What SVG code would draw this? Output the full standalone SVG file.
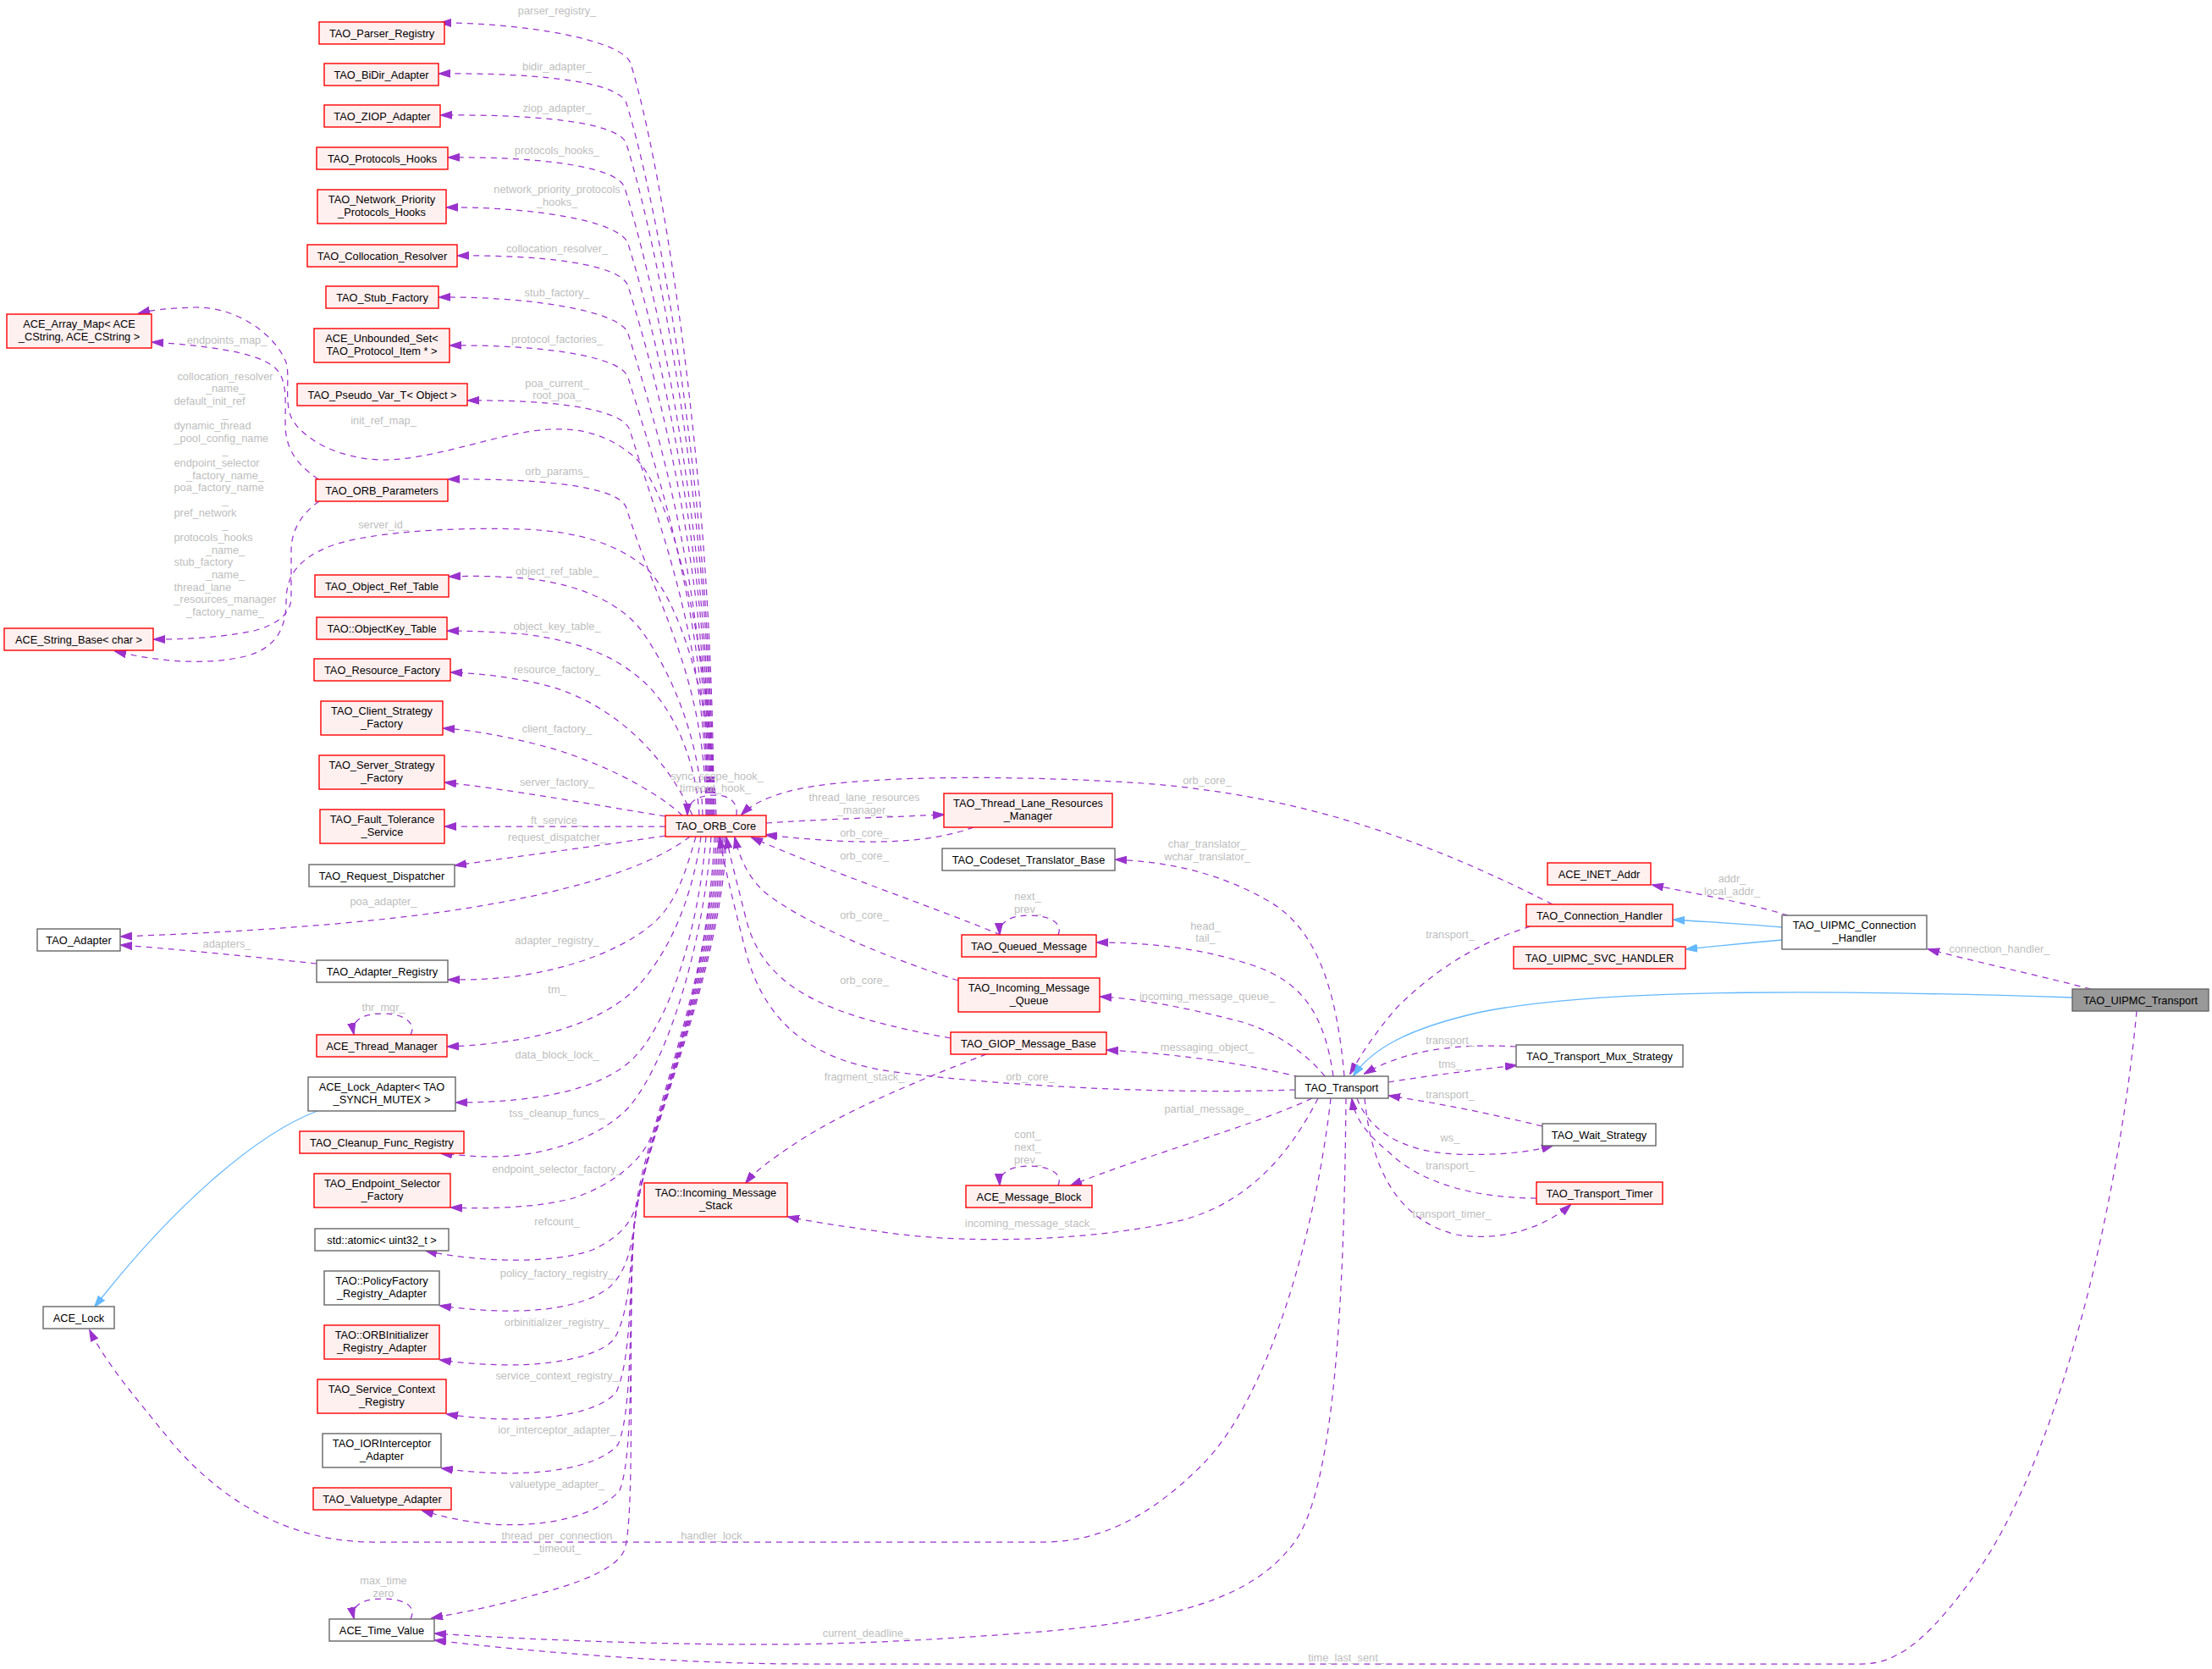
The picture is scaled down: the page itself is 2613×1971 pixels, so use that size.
<svg xmlns="http://www.w3.org/2000/svg" width="2613" height="1971" viewBox="0 0 2613 1971">
<style>
.e{fill:none;stroke:#9a32cd;stroke-width:1.25;stroke-dasharray:7,6;marker-end:url(#ap)}
.i{fill:none;stroke:#63b8ff;stroke-width:1.3;marker-end:url(#ab)}
.nr rect{fill:#fff0f0;stroke:#ff0000;stroke-width:1.4}
.ng rect{fill:#ffffff;stroke:#666666;stroke-width:1.4}
.nc rect{fill:#999999;stroke:#666666;stroke-width:1.4}
text{font-family:"Liberation Sans",Arial,Helvetica,sans-serif;font-size:12.8px}
.t{fill:#000000;text-anchor:middle}
.l{fill:#bebebe;text-anchor:middle}
.ls{fill:#bebebe;text-anchor:start}
</style>
<defs>
<marker id="ap" markerUnits="userSpaceOnUse" markerWidth="14" markerHeight="10" viewBox="0 0 14 10" refX="13" refY="5" orient="auto"><path d="M0,0.5 L14,5 L0,9.5 z" fill="#9a32cd" stroke="#9a32cd"/></marker>
<marker id="ab" markerUnits="userSpaceOnUse" markerWidth="14" markerHeight="10" viewBox="0 0 14 10" refX="13" refY="5" orient="auto"><path d="M0,0.5 L14,5 L0,9.5 z" fill="#63b8ff" stroke="#63b8ff"/></marker>
</defs>
<rect width="2613" height="1971" fill="#ffffff"/>
<g id="edges">
<path class="e" d="M 843,963 C 843,563 782,195 745,75 C 736,47 619,27 520,27"/>
<path class="e" d="M 842,963 C 842,585 777,242 740,122 C 731,94 618,86 519,87"/>
<path class="e" d="M 841,963 C 841,606 777,290 740,170 C 731,142 619,135 521,136"/>
<path class="e" d="M 840,963 C 840,630 775,342 738,222 C 729,194 623,185 530,186"/>
<path class="e" d="M 839,963 C 839,659 779,408 742,288 C 733,260 624,244 528,245"/>
<path class="e" d="M 838,963 C 838,682 779,458 742,338 C 733,310 631,301 541,302"/>
<path class="e" d="M 837,963 C 837,707 779,514 742,394 C 733,366 619,350 519,351"/>
<path class="e" d="M 836,963 C 836,730 779,566 742,446 C 733,418 626,407 532,408"/>
<path class="e" d="M 835,963 C 835,758 781,628 744,508 C 735,480 638,472 553,473"/>
<path class="e" d="M 834,963 C 834,800 777,720 740,600 C 731,572 624,565 530,566"/>
<path class="e" d="M 830,963 C 828,870 790,790 758,745 C 735,715 690,690 620,683 C 580,680 555,680 531,681"/>
<path class="e" d="M 826,963 C 822,890 790,830 758,803 C 730,778 690,758 620,749 C 580,746 555,745 529,745"/>
<path class="e" d="M 818,963 C 790,900 730,830 640,808 C 600,799 565,795 533,794"/>
<path class="e" d="M 806,963 C 770,930 700,895 630,878 C 590,868 555,862 524,860"/>
<path class="e" d="M 786,964 C 700,950 600,932 526,924"/>
<path class="e" d="M 786,976 L 526,976"/>
<path class="e" d="M 786,987 C 700,1000 620,1010 538,1022"/>
<path class="e" d="M 815,988 C 760,1030 650,1060 500,1080 C 380,1095 250,1102 143,1106"/>
<path class="e" d="M 844,963 C 842,800 800,590 750,540 C 720,515 690,505 649,507 C 590,510 510,545 448,543 C 400,541 360,520 345,495 C 335,475 343,445 338,428 C 325,395 280,362 230,363 C 200,364 180,366 164,370"/>
<path class="e" d="M 846,963 C 842,830 800,700 760,668 C 730,645 690,628 620,625 C 520,622 430,630 390,645 C 352,660 338,680 338,710 C 338,740 328,765 290,775 C 240,787 180,780 136,769"/>
<path class="e" d="M 376,566 C 350,548 337,530 337,500 C 337,470 340,445 322,432 C 300,415 240,408 180,404"/>
<path class="e" d="M 377,592 C 358,605 344,625 344,650 L 344,705 C 344,722 332,736 300,745 C 260,753 220,755 182,755"/>
<path class="e" d="M 374,1138 C 300,1130 220,1122 143,1116"/>
<path class="e" d="M 822,988 C 810,1030 800,1060 780,1082 C 750,1115 680,1145 600,1154 C 570,1157 550,1157 530,1157"/>
<path class="e" d="M 828,988 C 818,1060 790,1130 746,1172 C 710,1205 640,1232 529,1236"/>
<path class="e" d="M 485,1222 C 492,1210 480,1197 452,1197 C 425,1197 415,1207 418,1221"/>
<path class="e" d="M 834,988 C 825,1100 790,1210 746,1252 C 710,1285 640,1302 539,1302"/>
<path class="e" d="M 840,988 C 832,1110 790,1250 745,1305 C 715,1340 650,1366 580,1366 C 560,1366 540,1364 521,1362"/>
<path class="e" d="M 844,988 C 838,1130 795,1280 769,1343 C 755,1375 720,1400 680,1414 C 640,1426 580,1428 533,1426"/>
<path class="e" d="M 846,988 C 841,1150 765,1330 752,1420 C 748,1440 735,1460 700,1476 C 650,1494 560,1490 503,1477"/>
<path class="e" d="M 848,988 C 843,1150 765,1330 750,1440 C 746,1470 742,1500 720,1520 C 690,1545 620,1556 520,1542"/>
<path class="e" d="M 850,988 C 845,1150 765,1330 750,1440 C 744,1490 745,1550 725,1582 C 700,1608 620,1620 520,1606"/>
<path class="e" d="M 852,988 C 847,1150 765,1330 750,1440 C 743,1500 748,1600 728,1644 C 705,1672 620,1684 528,1670"/>
<path class="e" d="M 854,988 C 849,1150 765,1330 750,1440 C 742,1510 750,1660 730,1706 C 705,1736 620,1748 522,1734"/>
<path class="e" d="M 856,988 C 851,1150 765,1330 750,1440 C 741,1520 752,1710 732,1760 C 705,1792 640,1804 580,1800 C 550,1797 525,1792 499,1784"/>
<path class="e" d="M 858,988 C 853,1150 765,1330 750,1440 C 740,1530 752,1780 738,1830 C 725,1860 660,1876 600,1892 C 560,1902 530,1907 510,1911"/>
<path class="e" d="M 485,1912 C 492,1898 480,1888 452,1888 C 425,1888 415,1898 418,1911"/>
<path class="i" d="M 375,1312 C 300,1340 200,1430 112,1543"/>
<path class="e" d="M 870,963 C 872,948 862,939 845,939 C 825,939 812,946 812,962"/>
<path class="e" d="M 905,972 C 960,968 1050,965 1115,962"/>
<path class="e" d="M 1150,977 C 1100,995 1030,1000 905,986"/>
<path class="e" d="M 1182,1104 C 1100,1070 980,1030 888,989"/>
<path class="e" d="M 1132,1158 C 1040,1128 950,1090 905,1055 C 885,1038 874,1015 868,989"/>
<path class="e" d="M 1123,1226 C 980,1200 900,1170 880,1080 C 870,1040 862,1010 858,989"/>
<path class="e" d="M 1530,1287 C 1400,1292 1200,1285 1050,1265 C 950,1250 900,1200 880,1120 C 865,1060 855,1020 850,989"/>
<path class="e" d="M 1834,1068 C 1700,1000 1550,940 1350,925 C 1200,915 1000,915 930,935 C 905,942 888,950 876,962"/>
<path class="e" d="M 1250,1104 C 1256,1090 1240,1081 1215,1081 C 1192,1081 1180,1090 1181,1103"/>
<path class="e" d="M 1250,1400 C 1256,1386 1240,1377 1215,1377 C 1192,1377 1180,1386 1181,1399"/>
<path class="e" d="M 1165,1245 C 1100,1270 1000,1310 940,1350 C 910,1370 893,1382 881,1397"/>
<path class="e" d="M 1588,1271 C 1580,1180 1560,1100 1500,1065 C 1440,1030 1380,1018 1318,1015"/>
<path class="e" d="M 1575,1271 C 1565,1200 1540,1160 1480,1140 C 1420,1120 1360,1113 1296,1113"/>
<path class="e" d="M 1565,1271 C 1540,1240 1500,1215 1460,1205 C 1400,1190 1350,1180 1300,1177"/>
<path class="e" d="M 1535,1272 C 1480,1258 1400,1245 1308,1240"/>
<path class="e" d="M 1550,1297 C 1480,1330 1350,1365 1265,1400"/>
<path class="e" d="M 1557,1297 C 1520,1370 1470,1420 1400,1440 C 1300,1465 1150,1470 1050,1456 C 1010,1450 970,1445 931,1437"/>
<path class="e" d="M 1572,1297 C 1555,1450 1500,1650 1420,1730 C 1360,1790 1300,1821 1234,1821 L 440,1821 C 330,1821 250,1760 200,1700 C 160,1650 125,1610 106,1571"/>
<path class="e" d="M 1590,1297 C 1588,1500 1580,1750 1530,1820 C 1480,1890 1380,1915 1216,1928 C 1100,1937 1000,1942 900,1942 C 760,1942 600,1935 514,1929"/>
<path class="e" d="M 2524,1194 C 2505,1400 2440,1700 2340,1850 C 2290,1920 2250,1965 2200,1965 L 950,1965 C 800,1965 620,1950 514,1937"/>
<path class="e" d="M 1808,1094 C 1740,1115 1690,1150 1650,1190 C 1620,1225 1605,1250 1595,1268"/>
<path class="i" d="M 2448,1178 C 2200,1170 1900,1165 1750,1195 C 1660,1215 1620,1240 1599,1270"/>
<path class="e" d="M 1791,1236 C 1720,1232 1660,1240 1612,1268"/>
<path class="e" d="M 1640,1278 C 1690,1270 1740,1264 1791,1258"/>
<path class="e" d="M 1822,1330 C 1760,1315 1700,1303 1641,1294"/>
<path class="e" d="M 1603,1297 C 1615,1330 1650,1360 1720,1363 C 1770,1365 1810,1360 1834,1353"/>
<path class="e" d="M 1815,1415 C 1750,1415 1680,1400 1640,1360 C 1615,1340 1600,1320 1597,1298"/>
<path class="e" d="M 1612,1297 C 1620,1380 1650,1440 1720,1458 C 1780,1468 1830,1445 1855,1423"/>
<path class="e" d="M 2112,1081 C 2060,1065 2000,1055 1952,1045"/>
<path class="i" d="M 2105,1095 C 2060,1091 2020,1089 1977,1086"/>
<path class="i" d="M 2105,1110 C 2060,1114 2030,1117 1992,1121"/>
<path class="e" d="M 2470,1168 C 2400,1150 2330,1135 2278,1121"/>
</g>
<g id="edge-labels">
<text class="l" x="658" y="17">parser_registry_</text>
<text class="l" x="658" y="83">bidir_adapter_</text>
<text class="l" x="658" y="132">ziop_adapter_</text>
<text class="l" x="658" y="182">protocols_hooks_</text>
<text class="l" x="658" y="228">network_priority_protocols</text>
<text class="l" x="658" y="243">_hooks_</text>
<text class="l" x="658" y="297.5">collocation_resolver_</text>
<text class="l" x="658" y="349.5">stub_factory_</text>
<text class="l" x="658" y="404.5">protocol_factories_</text>
<text class="l" x="658" y="456.5">poa_current_</text>
<text class="l" x="658" y="471">root_poa_</text>
<text class="l" x="453" y="500.5">init_ref_map_</text>
<text class="l" x="658" y="561">orb_params_</text>
<text class="l" x="453" y="623.5">server_id_</text>
<text class="l" x="268" y="405.5">endpoints_map_</text>
<text class="l" x="266" y="448.5">collocation_resolver</text>
<text class="l" x="266" y="463.2">_name_</text>
<text class="ls" x="205.5" y="477.8">default_init_ref</text>
<text class="l" x="266" y="492.5">_</text>
<text class="ls" x="205.5" y="507.1">dynamic_thread</text>
<text class="ls" x="205.5" y="521.8">_pool_config_name</text>
<text class="l" x="266" y="536.4">_</text>
<text class="ls" x="205.5" y="551.1">endpoint_selector</text>
<text class="l" x="266" y="565.7">_factory_name_</text>
<text class="ls" x="205.5" y="580.4">poa_factory_name</text>
<text class="l" x="266" y="595">_</text>
<text class="ls" x="205.5" y="609.7">pref_network</text>
<text class="l" x="266" y="624.3">_</text>
<text class="ls" x="205.5" y="639">protocols_hooks</text>
<text class="l" x="266" y="653.6">_name_</text>
<text class="ls" x="205.5" y="668.3">stub_factory</text>
<text class="l" x="266" y="682.9">_name_</text>
<text class="ls" x="205.5" y="697.6">thread_lane</text>
<text class="ls" x="205.5" y="712.2">_resources_manager</text>
<text class="l" x="266" y="726.9">_factory_name_</text>
<text class="l" x="658" y="679">object_ref_table_</text>
<text class="l" x="658" y="744">object_key_table_</text>
<text class="l" x="658" y="795">resource_factory_</text>
<text class="l" x="658" y="864.5">client_factory_</text>
<text class="l" x="658" y="928">server_factory_</text>
<text class="l" x="658" y="972.5">ft_service_</text>
<text class="l" x="658" y="992.5">request_dispatcher_</text>
<text class="l" x="453" y="1068.5">poa_adapter_</text>
<text class="l" x="268" y="1118.5">adapters_</text>
<text class="l" x="658" y="1115">adapter_registry_</text>
<text class="l" x="658" y="1172.5">tm_</text>
<text class="l" x="453" y="1193.5">thr_mgr_</text>
<text class="l" x="658" y="1249.5">data_block_lock_</text>
<text class="l" x="658" y="1318.5">tss_cleanup_funcs_</text>
<text class="l" x="658" y="1384.5">endpoint_selector_factory_</text>
<text class="l" x="658" y="1447">refcount_</text>
<text class="l" x="658" y="1507.5">policy_factory_registry_</text>
<text class="l" x="658" y="1565.5">orbinitializer_registry_</text>
<text class="l" x="658" y="1628.5">service_context_registry_</text>
<text class="l" x="658" y="1692.5">ior_interceptor_adapter_</text>
<text class="l" x="658" y="1756.5">valuetype_adapter_</text>
<text class="l" x="658" y="1817.5">thread_per_connection</text>
<text class="l" x="658" y="1832.5">_timeout_</text>
<text class="l" x="844" y="1817.5">handler_lock_</text>
<text class="l" x="453" y="1870.5">max_time</text>
<text class="l" x="453" y="1885.5">zero</text>
<text class="l" x="1023" y="1933">current_deadline_</text>
<text class="l" x="1590" y="1962">time_last_sent_</text>
<text class="l" x="847" y="920.5">sync_scope_hook_</text>
<text class="l" x="845" y="935">timeout_hook_</text>
<text class="l" x="1021" y="945.5">thread_lane_resources</text>
<text class="l" x="1021" y="960.5">_manager_</text>
<text class="l" x="1021" y="987.5">orb_core_</text>
<text class="l" x="1021" y="1015">orb_core_</text>
<text class="l" x="1021" y="1084.5">orb_core_</text>
<text class="l" x="1021" y="1161.5">orb_core_</text>
<text class="l" x="1021" y="1275.5">fragment_stack_</text>
<text class="l" x="1217" y="1275.5">orb_core_</text>
<text class="l" x="1426" y="925.5">orb_core_</text>
<text class="l" x="1426" y="1000.5">char_translator_</text>
<text class="l" x="1426" y="1015.5">wchar_translator_</text>
<text class="l" x="1214" y="1062.5">next_</text>
<text class="l" x="1214" y="1077.5">prev_</text>
<text class="l" x="1424" y="1097.5">head_</text>
<text class="l" x="1424" y="1112">tail_</text>
<text class="l" x="1426" y="1180.5">incoming_message_queue_</text>
<text class="l" x="1426" y="1241">messaging_object_</text>
<text class="l" x="1426" y="1313.5">partial_message_</text>
<text class="l" x="1214" y="1343.5">cont_</text>
<text class="l" x="1214" y="1358.5">next_</text>
<text class="l" x="1214" y="1373.5">prev_</text>
<text class="l" x="1217" y="1448.5">incoming_message_stack_</text>
<text class="l" x="2046" y="1041.5">addr_</text>
<text class="l" x="2046" y="1056.5">local_addr_</text>
<text class="l" x="1713" y="1107.5">transport_</text>
<text class="l" x="2362" y="1124.5">connection_handler_</text>
<text class="l" x="1713" y="1232.5">transport_</text>
<text class="l" x="1713" y="1260.5">tms_</text>
<text class="l" x="1713" y="1296.5">transport_</text>
<text class="l" x="1713" y="1347.5">ws_</text>
<text class="l" x="1713" y="1380.5">transport_</text>
<text class="l" x="1715" y="1437.5">transport_timer_</text>
</g>
<g id="n1" class="nr"><rect x="377" y="26" width="148" height="26"/><text class="t" x="451" y="43.5">TAO_Parser_Registry</text></g>
<g id="n2" class="nr"><rect x="383" y="75" width="135" height="26"/><text class="t" x="450.5" y="92.5">TAO_BiDir_Adapter</text></g>
<g id="n3" class="nr"><rect x="383" y="124" width="137" height="26"/><text class="t" x="451.5" y="141.5">TAO_ZIOP_Adapter</text></g>
<g id="n4" class="nr"><rect x="374" y="174" width="155" height="26"/><text class="t" x="451.5" y="191.5">TAO_Protocols_Hooks</text></g>
<g id="n5" class="nr"><rect x="375" y="224" width="152" height="40"/><text class="t" x="451" y="240">TAO_Network_Priority</text><text class="t" x="451" y="255">_Protocols_Hooks</text></g>
<g id="n6" class="nr"><rect x="363" y="289" width="177" height="26"/><text class="t" x="451.5" y="306.5">TAO_Collocation_Resolver</text></g>
<g id="n7" class="nr"><rect x="385" y="338" width="133" height="26"/><text class="t" x="451.5" y="355.5">TAO_Stub_Factory</text></g>
<g id="n8" class="nr"><rect x="371" y="388" width="160" height="40"/><text class="t" x="451" y="404">ACE_Unbounded_Set&lt;</text><text class="t" x="451" y="419">TAO_Protocol_Item * &gt;</text></g>
<g id="n9" class="nr"><rect x="351" y="453" width="201" height="26"/><text class="t" x="451.5" y="470.5">TAO_Pseudo_Var_T&lt; Object &gt;</text></g>
<g id="n10" class="nr"><rect x="373" y="566" width="156" height="26"/><text class="t" x="451" y="583.5">TAO_ORB_Parameters</text></g>
<g id="n11" class="nr"><rect x="372" y="679" width="158" height="26"/><text class="t" x="451" y="696.5">TAO_Object_Ref_Table</text></g>
<g id="n12" class="nr"><rect x="374" y="729" width="154" height="26"/><text class="t" x="451" y="746.5">TAO::ObjectKey_Table</text></g>
<g id="n13" class="nr"><rect x="371" y="778" width="161" height="26"/><text class="t" x="451.5" y="795.5">TAO_Resource_Factory</text></g>
<g id="n14" class="nr"><rect x="379" y="828" width="144" height="40"/><text class="t" x="451" y="844">TAO_Client_Strategy</text><text class="t" x="451" y="859">_Factory</text></g>
<g id="n15" class="nr"><rect x="377" y="892" width="148" height="40"/><text class="t" x="451" y="908">TAO_Server_Strategy</text><text class="t" x="451" y="923">_Factory</text></g>
<g id="n16" class="nr"><rect x="378" y="956" width="147" height="40"/><text class="t" x="451.5" y="972">TAO_Fault_Tolerance</text><text class="t" x="451.5" y="987">_Service</text></g>
<g id="n17" class="ng"><rect x="365" y="1021" width="172" height="26"/><text class="t" x="451" y="1038.5">TAO_Request_Dispatcher</text></g>
<g id="n18" class="ng"><rect x="374" y="1134" width="155" height="26"/><text class="t" x="451.5" y="1151.5">TAO_Adapter_Registry</text></g>
<g id="n19" class="nr"><rect x="374" y="1222" width="154" height="26"/><text class="t" x="451" y="1239.5">ACE_Thread_Manager</text></g>
<g id="n20" class="ng"><rect x="364" y="1272" width="174" height="40"/><text class="t" x="451" y="1288">ACE_Lock_Adapter&lt; TAO</text><text class="t" x="451" y="1303">_SYNCH_MUTEX &gt;</text></g>
<g id="n21" class="nr"><rect x="354" y="1336" width="194" height="26"/><text class="t" x="451" y="1353.5">TAO_Cleanup_Func_Registry</text></g>
<g id="n22" class="nr"><rect x="371" y="1386" width="161" height="40"/><text class="t" x="451.5" y="1402">TAO_Endpoint_Selector</text><text class="t" x="451.5" y="1417">_Factory</text></g>
<g id="n23" class="ng"><rect x="372" y="1451" width="158" height="26"/><text class="t" x="451" y="1468.5">std::atomic&lt; uint32_t &gt;</text></g>
<g id="n24" class="ng"><rect x="383" y="1501" width="136" height="40"/><text class="t" x="451" y="1517">TAO::PolicyFactory</text><text class="t" x="451" y="1532">_Registry_Adapter</text></g>
<g id="n25" class="nr"><rect x="383" y="1565" width="136" height="40"/><text class="t" x="451" y="1581">TAO::ORBInitializer</text><text class="t" x="451" y="1596">_Registry_Adapter</text></g>
<g id="n26" class="nr"><rect x="375" y="1629" width="152" height="40"/><text class="t" x="451" y="1645">TAO_Service_Context</text><text class="t" x="451" y="1660">_Registry</text></g>
<g id="n27" class="ng"><rect x="381" y="1693" width="140" height="40"/><text class="t" x="451" y="1709">TAO_IORInterceptor</text><text class="t" x="451" y="1724">_Adapter</text></g>
<g id="n28" class="nr"><rect x="370" y="1757" width="163" height="26"/><text class="t" x="451.5" y="1774.5">TAO_Valuetype_Adapter</text></g>
<g id="n29" class="ng"><rect x="389" y="1912" width="124" height="26"/><text class="t" x="451" y="1929.5">ACE_Time_Value</text></g>
<g id="n30" class="nr"><rect x="8" y="371" width="171" height="40"/><text class="t" x="93.5" y="387">ACE_Array_Map&lt; ACE</text><text class="t" x="93.5" y="402">_CString, ACE_CString &gt;</text></g>
<g id="n31" class="nr"><rect x="5" y="742" width="176" height="26"/><text class="t" x="93" y="759.5">ACE_String_Base&lt; char &gt;</text></g>
<g id="n32" class="ng"><rect x="44" y="1097" width="98" height="26"/><text class="t" x="93" y="1114.5">TAO_Adapter</text></g>
<g id="n33" class="ng"><rect x="51" y="1543" width="84" height="26"/><text class="t" x="93" y="1560.5">ACE_Lock</text></g>
<g id="n34" class="nr"><rect x="786" y="963" width="119" height="25"/><text class="t" x="845.5" y="980">TAO_ORB_Core</text></g>
<g id="n35" class="nr"><rect x="1115" y="937" width="199" height="40"/><text class="t" x="1214.5" y="953">TAO_Thread_Lane_Resources</text><text class="t" x="1214.5" y="968">_Manager</text></g>
<g id="n36" class="ng"><rect x="1113" y="1002" width="204" height="26"/><text class="t" x="1215" y="1019.5">TAO_Codeset_Translator_Base</text></g>
<g id="n37" class="nr"><rect x="1136" y="1104" width="159" height="26"/><text class="t" x="1215.5" y="1121.5">TAO_Queued_Message</text></g>
<g id="n38" class="nr"><rect x="1132" y="1155" width="167" height="40"/><text class="t" x="1215.5" y="1171">TAO_Incoming_Message</text><text class="t" x="1215.5" y="1186">_Queue</text></g>
<g id="n39" class="nr"><rect x="1123" y="1219" width="184" height="26"/><text class="t" x="1215" y="1236.5">TAO_GIOP_Message_Base</text></g>
<g id="n40" class="nr"><rect x="761" y="1397" width="169" height="40"/><text class="t" x="845.5" y="1413">TAO::Incoming_Message</text><text class="t" x="845.5" y="1428">_Stack</text></g>
<g id="n41" class="nr"><rect x="1141" y="1400" width="149" height="26"/><text class="t" x="1215.5" y="1417.5">ACE_Message_Block</text></g>
<g id="n42" class="ng"><rect x="1530" y="1271" width="110" height="26"/><text class="t" x="1585" y="1288.5">TAO_Transport</text></g>
<g id="n43" class="nr"><rect x="1828" y="1019" width="122" height="26"/><text class="t" x="1889" y="1036.5">ACE_INET_Addr</text></g>
<g id="n44" class="nr"><rect x="1803" y="1068" width="173" height="26"/><text class="t" x="1889.5" y="1085.5">TAO_Connection_Handler</text></g>
<g id="n45" class="nr"><rect x="1788" y="1118" width="203" height="26"/><text class="t" x="1889.5" y="1135.5">TAO_UIPMC_SVC_HANDLER</text></g>
<g id="n46" class="ng"><rect x="2105" y="1081" width="171" height="40"/><text class="t" x="2190.5" y="1097">TAO_UIPMC_Connection</text><text class="t" x="2190.5" y="1112">_Handler</text></g>
<g id="n47" class="nc"><rect x="2448" y="1168" width="161" height="26"/><text class="t" x="2528.5" y="1185.5">TAO_UIPMC_Transport</text></g>
<g id="n48" class="ng"><rect x="1791" y="1234" width="197" height="26"/><text class="t" x="1889.5" y="1251.5">TAO_Transport_Mux_Strategy</text></g>
<g id="n49" class="ng"><rect x="1822" y="1327" width="134" height="26"/><text class="t" x="1889" y="1344.5">TAO_Wait_Strategy</text></g>
<g id="n50" class="nr"><rect x="1815" y="1396" width="149" height="26"/><text class="t" x="1889.5" y="1413.5">TAO_Transport_Timer</text></g>
</svg>
